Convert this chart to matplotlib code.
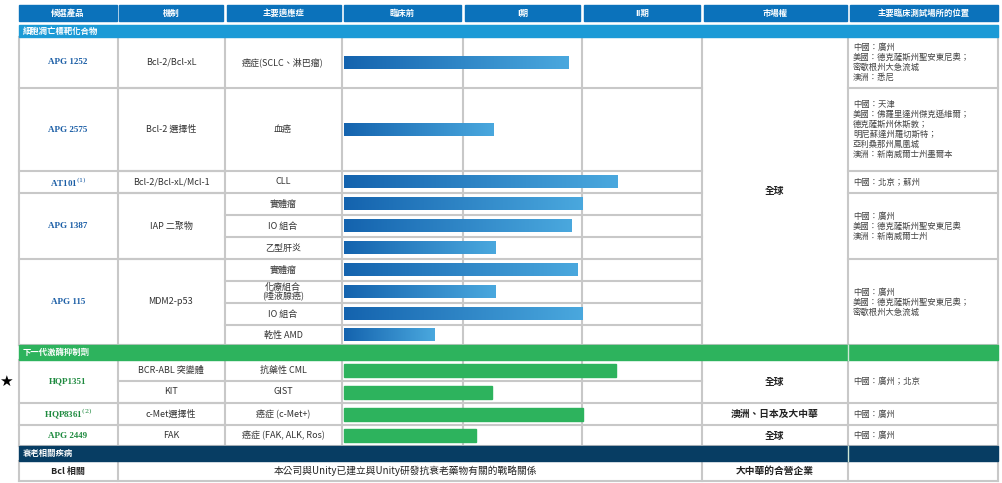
import matplotlib
matplotlib.use("Agg")
import matplotlib.pyplot as plt
from matplotlib.patches import Rectangle
from matplotlib.colors import LinearSegmentedColormap
import numpy as np

plt.rcParams["font.family"] = ["Noto Sans CJK TC"]
plt.rcParams["mathtext.fontset"] = "dejavuserif"

headers = ["候選產品", "機制", "主要適應症", "臨床前", "I期", "II期", "市場權", "主要臨床測試場所的位置"]
sections = ["細胞凋亡標靶化合物", "下一代激酶抑制劑", "衰老相關疾病"]
products = ["APG 1252", "APG 2575", r"AT101$^{(1)}$", "APG 1387", "APG 115", "HQP1351", r"HQP8361$^{(2)}$", "APG 2449"]
mechanisms = ["Bcl-2/Bcl-xL", "Bcl-2 選擇性", "Bcl-2/Bcl-xL/Mcl-1", "IAP 二聚物", "MDM2-p53", "BCR-ABL 突變體", "KIT", "c-Met選擇性", "FAK"]
indications = ["癌症(SCLC、淋巴瘤)", "血癌", "CLL", "實體瘤", "IO 組合", "乙型肝炎",
               "實體瘤", "化療組合\n(唾液腺癌)", "IO 組合", "乾性 AMD",
               "抗藥性 CML", "GIST", "癌症 (c-Met+)", "癌症 (FAK, ALK, Ros)"]
# progress in stage units (1 = end of preclinical, 2 = end of phase I, 3 = end of phase II)
progress = [1.88, 1.25, 2.29, 2.0, 1.91, 1.27, 1.96, 1.27, 2.0, 0.76, 2.28, 1.24, 2.0, 1.11]
bar_group = ["blue"] * 10 + ["green"] * 4
markets = ["全球", "全球", "澳洲、日本及大中華", "全球", "大中華的合營企業"]
sites = ["中國：廣州\n美國：德克薩斯州聖安東尼奧；\n密歇根州大急流城\n澳洲：悉尼",
         "中國：天津\n美國：佛羅里達州傑克遜維爾；\n德克薩斯州休斯敦；\n明尼蘇達州羅切斯特；\n亞利桑那州鳳凰城\n澳洲：新南威爾士州墨爾本",
         "中國：北京；蘇州",
         "中國：廣州\n美國：德克薩斯州聖安東尼奧\n澳洲：新南威爾士州",
         "中國：廣州\n美國：德克薩斯州聖安東尼奧；\n密歇根州大急流城",
         "中國：廣州；北京", "中國：廣州", "中國：廣州"]
bcl_text = ["Bcl 相關", "本公司與Unity已建立與Unity研發抗衰老藥物有關的戰略關係"]

fig = plt.figure(figsize=(10.02, 4.83), dpi=100)
ax = fig.add_axes([0, 0, 1, 1])
ax.set_xlim(0, 1002); ax.set_ylim(483, 0); ax.axis("off")

HB = "#0b72bb"; SB = "#1b9ad6"; GR = "#2db35d"; NV = "#073d63"; GL = "#c8c8c8"
TB = "#1b5ea6"; TG = "#1e8a3f"; TX = "#333333"
cols = [19, 118, 225, 342, 463, 582, 702, 848, 998]

hdr_x = [(19, 117), (119, 223), (227, 341), (344, 461), (465, 580), (584, 700), (704, 847), (850, 998)]
for (a, b), h in zip(hdr_x, headers):
    ax.add_patch(Rectangle((a, 5), b - a, 16, color=HB))
    ax.text((a + b) / 2, 13, h, color="white", ha="center", va="center", fontsize=6, fontweight="bold")

def section(y0, y1, color, text):
    ax.add_patch(Rectangle((19, y0), 979, y1 - y0, color=color, zorder=3))
    ax.text(23, (y0 + y1) / 2, text, color="white", ha="left", va="center", fontsize=6, fontweight="bold", zorder=4)

section(25, 37, SB, sections[0])
section(345, 360, GR, sections[1])
section(446, 461, NV, sections[2])
ax.plot([848, 848], [345, 360], color="#cfe8d6", lw=1, zorder=4)
ax.plot([848, 848], [446, 461], color="#cfe8d6", lw=1, zorder=4)

sub = [(37, 88), (88, 171), (171, 193), (193, 215), (215, 237), (237, 259),
       (259, 281), (281, 303), (303, 325), (325, 345),
       (360, 381), (381, 403), (403, 425), (425, 446)]
prod_rows = [(37, 88), (88, 171), (171, 193), (193, 259), (259, 345), (360, 403), (403, 425), (425, 446)]
mech_rows = [(37, 88), (88, 171), (171, 193), (193, 259), (259, 345), (360, 381), (381, 403), (403, 425), (425, 446)]
site_rows = [(37, 88), (88, 171), (171, 193), (193, 259), (259, 345), (360, 403), (403, 425), (425, 446)]
market_rows = [(37, 345), (360, 403), (403, 425), (425, 446)]

lw = 1.5
def hline(x0, x1, y): ax.plot([x0, x1], [y, y], color=GL, lw=lw, zorder=1)
def vline(x, y0, y1): ax.plot([x, x], [y0, y1], color=GL, lw=lw, zorder=1)

for blk in [(37, 345), (360, 446), (461, 481)]:
    for x in cols:
        if blk == (461, 481) and x not in (19, 118, 702, 848, 998):
            continue
        vline(x, *blk)
for a, b in sub:
    hline(225, 702, b)
for a, b in prod_rows:
    hline(19, 225, b)
for a, b in mech_rows:
    hline(118, 225, b)
for a, b in site_rows:
    hline(848, 998, b)
for a, b in market_rows:
    hline(702, 848, b)
hline(19, 998, 481)

for (a, b), t, i in zip(prod_rows, products, range(8)):
    ax.text(68, (a + b) / 2, t, color=TB if i < 5 else TG, ha="center", va="center",
            fontsize=6.5, fontweight="bold", family="Liberation Serif")
for (a, b), t in zip(mech_rows, mechanisms):
    ax.text(171, (a + b) / 2, t, color=TX, ha="center", va="center", fontsize=6.5)
for (a, b), t in zip(sub, indications):
    ax.text(283, (a + b) / 2, t, color=TX, ha="center", va="center", fontsize=6.5, linespacing=0.95)
for (a, b), t in zip(market_rows, markets[:4]):
    ax.text(775, (a + b) / 2, t, color="#222222", ha="center", va="center", fontsize=7, fontweight="bold")
for (a, b), t in zip(site_rows, sites):
    ax.text(853, (a + b) / 2, t, color="#444444", ha="left", va="center", fontsize=6, linespacing=1.15)
ax.text(68, 471, bcl_text[0], color="#222222", ha="center", va="center", fontsize=6.5, fontweight="bold")
ax.text(405, 471, bcl_text[1], color="#222222", ha="center", va="center", fontsize=7)
ax.text(775, 471, markets[4], color="#222222", ha="center", va="center", fontsize=7, fontweight="bold")

x0 = 344.0; stage_w = 119.3
grad = np.linspace(0, 1, 256).reshape(1, -1)
cmap = LinearSegmentedColormap.from_list("b", ["#1463ae", "#4aa8de"])
for (a, b), p, g in zip(sub, progress, bar_group):
    xe = x0 + p * stage_w
    yc = (a + b) / 2
    h = 13
    if g == "blue":
        ax.imshow(grad, cmap=cmap, extent=(x0, xe, yc + h / 2, yc - h / 2), aspect="auto", zorder=2)
    else:
        ax.add_patch(Rectangle((x0, yc - h / 2), xe - x0, h, color=GR, zorder=2))
ax.set_xlim(0, 1002); ax.set_ylim(483, 0)

ax.text(6, 381, "★", ha="center", va="center", fontsize=11, color="black", family="DejaVu Sans")

fig.savefig("out.png", dpi=100)
